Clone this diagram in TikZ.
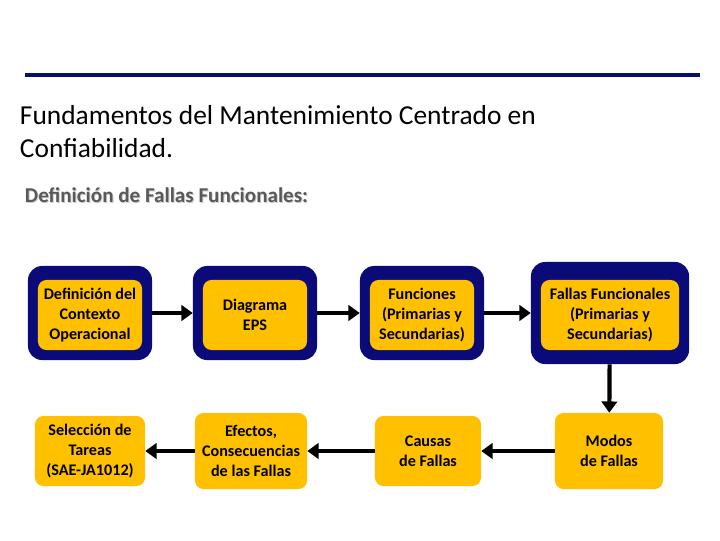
\documentclass[tikz,border=0pt]{standalone}
\usepackage{fontspec}
\setmainfont{Carlito}
\usetikzlibrary{positioning,arrows.meta}
\definecolor{navy}{RGB}{10,10,120}
\definecolor{gold}{RGB}{255,192,0}
\tikzset{
  outerbox/.style={fill=navy,rounded corners=10pt,minimum width=3.1cm,minimum height=2.35cm},
  innerbox/.style={fill=gold,rounded corners=6pt,align=center,font=\fontsize{11.5}{14.5}\selectfont\bfseries,minimum width=2.6cm,minimum height=1.75cm,inner sep=1pt},
  flow/.style={line width=3pt,-{Triangle[length=8pt,width=11pt]}}
}
\begin{document}
\begin{tikzpicture}[x=0.025cm,y=-0.025cm]
      \useasboundingbox (0,0) rectangle (720,540);
      \draw[navy,line width=2.5pt] (25,75) -- (700,75);
      \node[anchor=north west,align=left,font=\fontsize{19.5}{24}\selectfont] (title) at (15,100) {Fundamentos del Mantenimiento Centrado en\\Confiabilidad.};
      \node[anchor=west,font=\fontsize{15}{18}\selectfont\bfseries,text=gray!40] at (21,196) {Definición de Fallas Funcionales:};
      \node[anchor=west,font=\fontsize{15}{18}\selectfont\bfseries,text=gray!70!black] (sub) at (20,195) {Definición de Fallas Funcionales:};

      % top row
      \node[outerbox] (o1) at (90,313) {};
      \node[innerbox] (contexto) at (90,315) {Definición del\\Contexto\\Operacional};
      \node[outerbox] (o2) at (255,313) {};
      \node[innerbox] (eps) at (255,315) {Diagrama\\EPS};
      \node[outerbox] (o3) at (422,313) {};
      \node[innerbox] (funciones) at (422,315) {Funciones\\(Primarias y\\Secundarias)};
      \node[outerbox,minimum width=3.95cm,minimum height=2.55cm] (o4) at (610,313) {};
      \node[innerbox,minimum width=3.45cm] (fallasf) at (610,315) {Fallas Funcionales\\(Primarias y\\Secundarias)};

      % bottom row
      \node[innerbox,minimum width=2.75cm] (seleccion) at (90,451) {Selección de\\Tareas\\(SAE-JA1012)};
      \node[innerbox,minimum width=2.8cm,minimum height=1.9cm] (efectos) at (251,451) {Efectos,\\Consecuencias\\de las Fallas};
      \node[innerbox,minimum width=2.65cm] (causas) at (428,451) {Causas\\de Fallas};
      \node[innerbox,minimum width=2.7cm,minimum height=1.9cm] (modos) at (609,451) {Modos\\de Fallas};

      \draw[flow] (o1) -- (o2);
      \draw[flow] (o2) -- (o3);
      \draw[flow] (o3) -- (o4);
      \draw[flow] (o4) -- (modos);
      \draw[flow] (modos) -- (causas);
      \draw[flow] (causas) -- (efectos);
      \draw[flow] (efectos) -- (seleccion);
\end{tikzpicture}
\end{document}
